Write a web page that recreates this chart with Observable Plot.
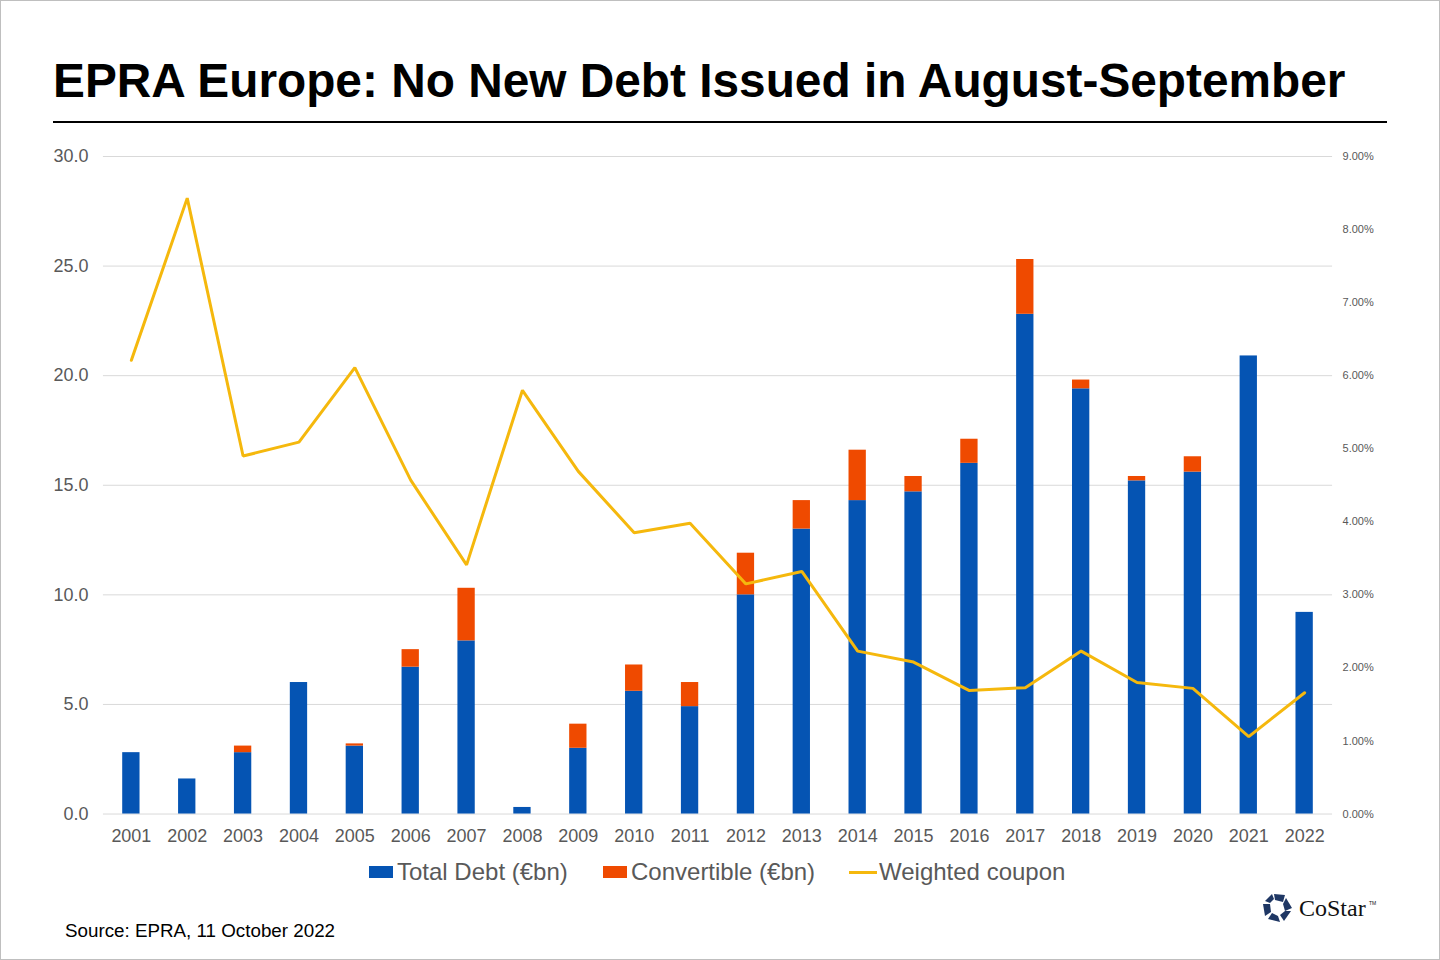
<!DOCTYPE html>
<html>
<head>
<meta charset="utf-8">
<script src="https://cdn.jsdelivr.net/npm/d3@7"></script>
<script src="https://cdn.jsdelivr.net/npm/@observablehq/plot@0.6"></script>
<style>
  html, body { margin: 0; padding: 0; background: #fff; }
  #page { position: relative; width: 1438px; height: 958px; border: 1px solid #bfbfbf; overflow: hidden; font-family: "Liberation Sans", Arial, sans-serif; }
  #title { position: absolute; left: 52px; top: 50px; margin: 0; font-size: 47.8px; font-weight: bold; color: #000; white-space: nowrap; line-height: 60px; }
  #rule { position: absolute; left: 52px; top: 120px; width: 1334px; height: 2px; background: #000; }
  #chart { position: absolute; left: -1px; top: 139px; }
  #legend { position: absolute; top: 856px; left: 0; width: 1440px; height: 30px; font-size: 24px; color: #595959; }
  .lg { position: absolute; top: 0; display: flex; align-items: center; height: 30px; white-space: nowrap; }
  .sw { width: 24px; height: 12px; margin-right: 4px; }
  .ln { width: 28px; height: 3px; margin-right: 2px; }
  #source { position: absolute; left: 64px; top: 919px; font-size: 18.8px; color: #000; }
  #logo { position: absolute; left: 1258px; top: 888px; }
</style>
</head>
<body>
<div id="page">
  <h1 id="title">EPRA Europe: No New Debt Issued in August-September</h1>
  <div id="rule"></div>
  <div id="chart"></div>
  <div id="legend"></div>
  <div id="source">Source: EPRA, 11 October 2022</div>
  <svg id="logo" width="120" height="38" viewBox="0 0 120 38">
    <g fill="#1f3764" transform="translate(18,19)">
      <polygon points="-3,-14 8,-13 6,-6 -2,-8"/>
      <polygon points="9,-10 15,0 8,3 6,-4"/>
      <polygon points="14,3 7,13 3,7 8,3"/>
      <polygon points="3,14 -9,11 -5,5 1,8"/>
      <polygon points="-12,8 -14,-4 -7,-4 -6,4"/>
      <polygon points="-12,-7 -5,-14 -3,-9 -7,-5"/>
    </g>
    <text x="40" y="27" font-family="Liberation Serif, DejaVu Serif, serif" font-size="24" fill="#111">CoStar</text>
    <text x="110" y="16" font-family="Liberation Sans, sans-serif" font-size="5" fill="#111">TM</text>
  </svg>
</div>
<script>
const years = ["2001","2002","2003","2004","2005","2006","2007","2008","2009","2010","2011","2012","2013","2014","2015","2016","2017","2018","2019","2020","2021","2022"];
const totalDebt = [2.8, 1.6, 2.8, 6.0, 3.1, 6.7, 7.9, 0.3, 3.0, 5.6, 4.9, 10.0, 13.0, 14.3, 14.7, 16.0, 22.8, 19.4, 15.2, 15.6, 20.9, 9.2];
const convertible = [0, 0, 0.3, 0, 0.1, 0.8, 2.4, 0, 1.1, 1.2, 1.1, 1.9, 1.3, 2.3, 0.7, 1.1, 2.5, 0.4, 0.2, 0.7, 0, 0];
const coupon = [6.21, 8.43, 4.90, 5.09, 6.11, 4.57, 3.41, 5.80, 4.69, 3.85, 3.98, 3.15, 3.32, 2.23, 2.08, 1.69, 1.73, 2.23, 1.80, 1.72, 1.06, 1.66];
const leftTicks = [0, 5, 10, 15, 20, 25, 30];
const rightTicks = [0, 1, 2, 3, 4, 5, 6, 7, 8, 9];
const seriesNames = ["Total Debt (€bn)", "Convertible (€bn)", "Weighted coupon"];
const colors = ["#0554B3", "#EF4A00", "#F5B80D"];

const ratio = 30 / 9; // right axis (%) to left axis units

const barRows = [];
years.forEach((y, i) => {
  barRows.push({year: y, series: seriesNames[0], value: totalDebt[i]});
});
years.forEach((y, i) => {
  barRows.push({year: y, series: seriesNames[1], value: convertible[i]});
});
const lineRows = years.map((y, i) => ({year: y, coupon: coupon[i]}));

const chart = Plot.plot({
  width: 1440,
  height: 720,
  marginTop: 16,
  marginBottom: 46,
  marginLeft: 103,
  marginRight: 107,
  style: {fontFamily: "Liberation Sans, Arial, sans-serif", background: "transparent", color: "#595959"},
  x: {domain: years, paddingInner: 0.69, paddingOuter: 0.345, round: false, label: null},
  y: {domain: [0, 30], label: null},
  color: {domain: seriesNames.slice(0, 2), range: colors.slice(0, 2)},
  marks: [
    Plot.gridY(leftTicks, {stroke: "#d9d9d9", strokeOpacity: 1, strokeWidth: 1}),
    Plot.axisY({ticks: leftTicks, tickSize: 0, tickPadding: 15, tickFormat: d => d.toFixed(1), fontSize: 18, fill: "#595959", label: null}),
    Plot.axisY({anchor: "right", ticks: rightTicks.map(v => v * ratio), tickSize: 0, tickPadding: 10, tickFormat: d => (d / ratio).toFixed(2) + "%", fontSize: 11, fill: "#595959", label: null}),
    Plot.axisX({tickSize: 0, tickPadding: 15, fontSize: 18, fill: "#595959", label: null}),
    Plot.barY(barRows, {x: "year", y: "value", fill: "series", order: null}),
    Plot.lineY(lineRows, {x: "year", y: d => d.coupon * ratio, stroke: colors[2], strokeWidth: 3, strokeLinejoin: "miter"})
  ]
});
document.getElementById("chart").appendChild(chart);

const legend = document.getElementById("legend");
const legendX = [368, 602, 848];
seriesNames.forEach((name, i) => {
  const item = document.createElement("div");
  item.className = "lg";
  item.style.left = legendX[i] + "px";
  const sw = document.createElement("div");
  sw.className = i < 2 ? "sw" : "ln";
  sw.style.background = colors[i];
  item.appendChild(sw);
  const t = document.createElement("span");
  t.textContent = name;
  item.appendChild(t);
  legend.appendChild(item);
});
</script>
</body>
</html>
